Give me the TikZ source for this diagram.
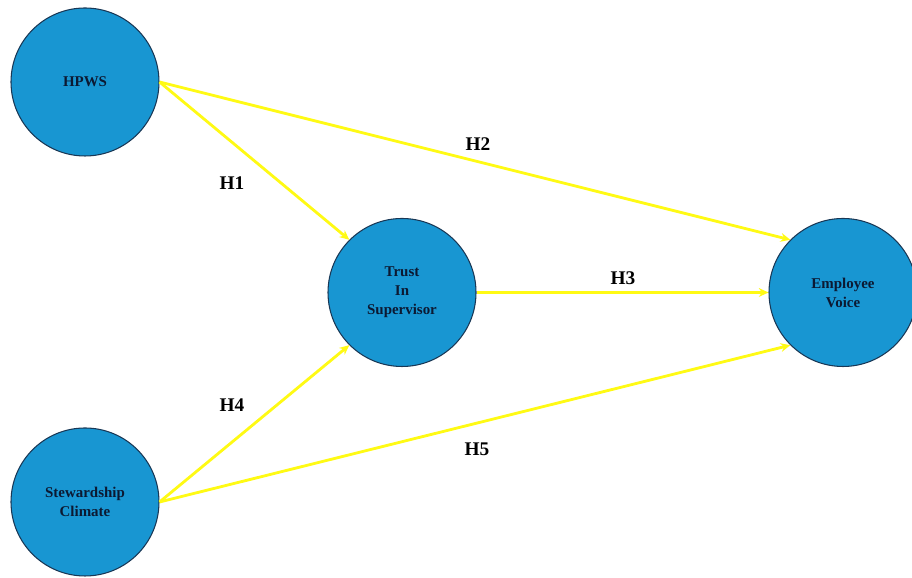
\documentclass[tikz,border=0pt]{standalone}
\usepackage{fontspec}
\setmainfont{Liberation Serif}
\usepackage{xcolor}
\usepackage{tikz}
\usetikzlibrary{arrows.meta,positioning}

\definecolor{circfill}{RGB}{24,150,210}
\definecolor{circline}{RGB}{25,55,85}
\definecolor{txtnavy}{RGB}{12,25,50}
\definecolor{linkyellow}{RGB}{255,250,20}

\tikzset{
  construct/.style={shape=circle,draw=circline,line width=0.6pt,fill=circfill,
    minimum size=2.96cm,inner sep=0pt,align=center,text=txtnavy,
    font=\fontsize{8.5}{10.8}\selectfont\bfseries},
  link/.style={-{Stealth[length=5.5pt,width=5pt]},draw=linkyellow,line width=1.6pt},
  hyp/.style={font=\fontsize{11}{13}\selectfont\bfseries,text=black}
}

\begin{document}
\begin{tikzpicture}
\useasboundingbox (0,0) rectangle (18.24,11.56);
% constructs
\node[construct](hpws) at (1.7,9.92){HPWS};
\node[construct](trust) at (8.04,5.71){Trust\\In\\Supervisor};
\node[construct](voice) at (16.86,5.71){Employee\\Voice};
\node[construct](steward) at (1.7,1.52){Stewardship\\Climate};
% paths
\draw[link](hpws.east)--(trust.135);
\draw[link](hpws.east)--(voice.135);
\draw[link](trust.east)--(voice.west);
\draw[link](steward.east)--(trust.225);
\draw[link](steward.east)--(voice.225);
% hypotheses
\node[hyp](h1) at (4.64,7.9){H1};
\node[hyp](h2) at (9.56,8.68){H2};
\node[hyp](h3) at (12.46,6.0){H3};
\node[hyp](h4) at (4.64,3.46){H4};
\node[hyp](h5) at (9.54,2.58){H5};
\end{tikzpicture}
\end{document}
